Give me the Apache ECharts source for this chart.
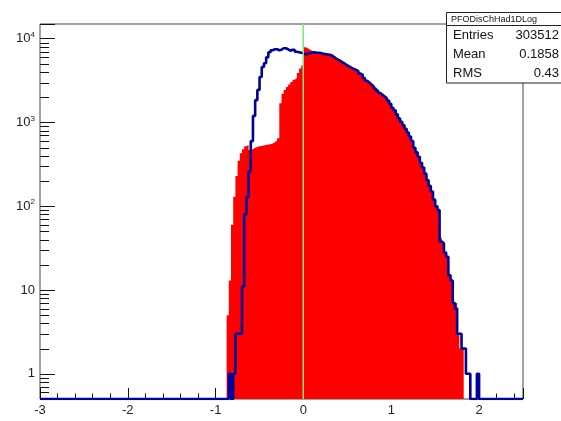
<!DOCTYPE html>
<html>
<head>
<meta charset="utf-8">
<script src="https://cdn.jsdelivr.net/npm/echarts@6/dist/echarts.min.js"></script>
<style>
  html, body { margin: 0; padding: 0; background: #fff; }
  #chart { width: 561px; height: 421px; }
</style>
</head>
<body>
<div id="chart"></div>
<script>
// histogram binning (ROOT TH1, 220 bins on [-3, 2.5])
const xMin = -3, xMax = 2.5, binWidth = 0.025;
const yMin = 0.5, yMax = 15000;
const firstEdge = -0.875; // first bin of the count arrays below
const cutX = 0; // green cut line

// filled red histogram, bins from -0.875
const redCounts = [
  5, 13, 60, 130, 230, 350, 430, 480, 520, 540,
  470, 480, 500, 510, 520, 525, 530, 540, 545, 550,
  560, 580, 610, 650, 1700, 2200, 2450, 2650, 2850, 3050,
  3250, 3400, 3900, 4400, 4800,
  7900, 7700, 7400, 7200, 7000, 6800, 6800, 6750, 6600, 6550,
  6500, 6450, 6300, 6050, 5760, 5600, 5400, 5200, 5000, 4800,
  4650, 4500, 4370, 4250, 4100, 3850, 3700, 3400, 3150, 3000,
  2850, 2700, 2550, 2400, 2250, 2150, 2050, 1950, 1830, 1670,
  1500, 1400, 1250, 1120, 1020, 930, 840, 760, 680, 600,
  500, 440, 390, 330, 290, 245, 205, 175, 150, 120,
  100, 90, 42, 36, 28, 25, 15, 13, 7, 7,
  3, 2, 2
];

// blue outline histogram, bins from -0.875
const blueCounts = [
  0, 1, 0, 1, 3, 3, 3, 11, 80, 128,
  260, 600, 1200, 1850, 2450, 3500, 4600, 5100, 6000, 6900,
  7300, 7500, 7500, 7300, 7400, 7700, 7700, 7500, 7200, 7400,
  7400, 7000, 6900, 6800, 6700,
  6500, 6600, 6700, 6800, 6900, 6800, 6800, 6750, 6600, 6550,
  6500, 6450, 6300, 6050, 5760, 5600, 5400, 5200, 5000, 4800,
  4650, 4500, 4370, 4250, 4100, 3850, 3700, 3400, 3150, 3000,
  2850, 2700, 2550, 2400, 2250, 2150, 2050, 1950, 1830, 1670,
  1500, 1400, 1250, 1120, 1020, 930, 840, 760, 680, 600,
  500, 440, 390, 330, 290, 245, 205, 175, 150, 120,
  100, 90, 38, 36, 28, 25, 15, 13, 7, 6,
  3, 3, 2, 2, 1, 1, 0, 0, 0, 1
];

const xTickValues = [-3, -2, -1, 0, 1, 2];
const xTickLabels = ['-3', '-2', '-1', '0', '1', '2'];
const yTickLabels = ['1', '10', '10{sup|2}', '10{sup|3}', '10{sup|4}']; // by exponent

const statsTitle = 'PFODisChHad1DLog';
const statsRows = [
  ['Entries', '303512'],
  ['Mean', '0.1858'],
  ['RMS', '0.43']
];

const FONT = '"Liberation Sans", Arial, Helvetica, sans-serif';

// bins -> step points (left edges), empty bins sit on the axis floor
function toSteps(counts) {
  const nBins = Math.round((xMax - xMin) / binWidth);
  const offset = Math.round((firstEdge - xMin) / binWidth);
  const pts = [];
  for (let i = 0; i < nBins; i++) {
    const j = i - offset;
    const c = (j >= 0 && j < counts.length) ? counts[j] : 0;
    pts.push([+(xMin + i * binWidth).toFixed(4), c > 0 ? c : yMin]);
  }
  pts.push([xMax, yMin]);
  return pts;
}

// log minor ticks 2..9 per decade
const yMinorTicks = [];
for (let d = 0.1; d <= 10000; d *= 10) {
  for (let m = 2; m <= 9; m++) {
    const v = +(m * d).toPrecision(3);
    if (v > yMin && v < yMax) yMinorTicks.push(v);
  }
}

const chart = echarts.init(document.getElementById('chart'), null, { renderer: 'canvas' });

const graphic = [
  { type: 'rect', z: 100, shape: { x: 446.5, y: 12.5, width: 130, height: 13 },
    style: { fill: '#fff', stroke: '#222', lineWidth: 1 } },
  { type: 'rect', z: 100, shape: { x: 446.5, y: 25.5, width: 130, height: 57.5 },
    style: { fill: '#fff', stroke: '#222', lineWidth: 1 } },
  { type: 'text', z: 101, x: 451, y: 19.5,
    style: { text: statsTitle, font: '9px ' + FONT, fill: '#111', verticalAlign: 'middle' } }
];
statsRows.forEach((row, i) => {
  const y = 35.5 + i * 19;
  graphic.push({ type: 'text', z: 101, x: 453, y: y,
    style: { text: row[0], font: '13px ' + FONT, fill: '#111', verticalAlign: 'middle' } });
  graphic.push({ type: 'text', z: 101, x: 559, y: y,
    style: { text: row[1], font: '13px ' + FONT, fill: '#111', align: 'right', verticalAlign: 'middle' } });
});

chart.setOption({
  animation: false,
  backgroundColor: '#fff',
  grid: {
    left: 40, top: 24, right: 38, bottom: 22,
    show: true, borderColor: '#444', borderWidth: 1, backgroundColor: 'transparent'
  },
  xAxis: [{
    type: 'value', min: xMin, max: xMax, interval: 1, position: 'bottom',
    axisLine: { show: false, onZero: false },
    axisTick: { inside: true, length: 11, lineStyle: { color: '#111' } },
    axisLabel: {
      margin: 5, color: '#222', fontSize: 13, fontFamily: FONT,
      formatter: v => {
        const k = xTickValues.indexOf(Math.round(v * 1000) / 1000);
        return k >= 0 ? xTickLabels[k] : '';
      }
    },
    splitLine: { show: false }
  }, {
    type: 'value', min: xMin, max: xMax, interval: 0.2, position: 'bottom', offset: 0,
    axisLine: { show: false, onZero: false },
    axisTick: { inside: true, length: 5.5, lineStyle: { color: '#111' } },
    axisLabel: { show: false },
    splitLine: { show: false }
  }],
  yAxis: {
    type: 'log', logBase: 10, min: yMin, max: yMax, position: 'left',
    axisLine: { show: false, onZero: false },
    axisTick: { inside: true, length: 15, lineStyle: { color: '#111' } },
    axisLabel: {
      margin: 5, color: '#222', fontSize: 13, fontFamily: FONT,
      formatter: v => {
        const e = Math.log10(v);
        const r = Math.round(e);
        if (Math.abs(e - r) > 1e-6 || r < 0 || r >= yTickLabels.length) return '';
        return yTickLabels[r];
      },
      rich: {
        sup: { fontSize: 8, fontFamily: FONT, color: '#222', padding: [0, 0, 8, 0] }
      }
    },
    splitLine: { show: false }
  },
  graphic: graphic,
  series: [{
    name: 'red',
    type: 'line',
    step: 'end',
    data: toSteps(redCounts),
    showSymbol: false,
    silent: true,
    lineStyle: { width: 0, color: '#ff0000' },
    areaStyle: { color: '#ff0000', opacity: 1, origin: 'start' },
    z: 2
  }, {
    name: 'blue',
    type: 'line',
    step: 'end',
    data: toSteps(blueCounts),
    showSymbol: false,
    silent: true,
    lineStyle: { width: 2.6, color: '#00009c' },
    z: 3
  }, {
    name: 'cut',
    type: 'custom',
    silent: true,
    clip: false,
    z: 6,
    data: [[cutX]],
    renderItem: (params, api) => {
      const p0 = api.coord([api.value(0), yMin]);
      const p1 = api.coord([api.value(0), yMax]);
      return {
        type: 'rect',
        shape: { x: Math.round(p0[0]) - 0.5, y: p1[1], width: 1.5, height: p0[1] - p1[1] },
        style: { fill: '#7ce87c', stroke: null }
      };
    }
  }, {
    name: 'yMinorTicks',
    type: 'custom',
    silent: true,
    clip: false,
    z: 1,
    data: yMinorTicks.map(v => [xMin, v]),
    renderItem: (params, api) => {
      const p = api.coord([api.value(0), api.value(1)]);
      const y = Math.round(p[1]) + 0.5;
      return {
        type: 'line',
        shape: { x1: p[0], y1: y, x2: p[0] + 9, y2: y },
        style: { stroke: '#111', lineWidth: 1 }
      };
    }
  }]
});
</script>
</body>
</html>
